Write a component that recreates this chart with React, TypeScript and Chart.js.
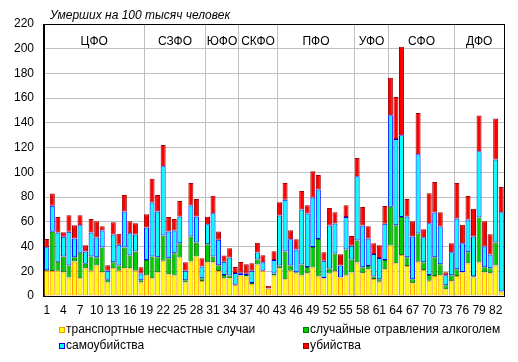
import React, { useEffect, useRef } from 'react';
import { Chart, registerables } from 'chart.js';

Chart.register(...registerables);

const regions = [
  '1','2','3','4','5','6','7','8','9','10','11','12','13','14','15','16','17','18','19','20',
  '21','22','23','24','25','26','27','28','29','30','31','32','33','34','35','36','37','38','39','40',
  '41','42','43','44','45','46','47','48','49','50','51','52','53','54','55','56','57','58','59','60',
  '61','62','63','64','65','66','67','68','69','70','71','72','73','74','75','76','77','78','79','80',
  '81','82','83'
];

const districts = ['ЦФО', 'СЗФО', 'ЮФО', 'СКФО', 'ПФО', 'УФО', 'СФО', 'ДФО'];
const districtSizes = [18, 11, 6, 7, 14, 6, 12, 9];

const transport = [
  20.3, 20.3, 20.5, 19.2, 15, 28, 14.3, 22.4, 20.5, 24.6, 19.2, 11, 22.4, 20.5, 22.4, 22.4, 20.5, 11,
  16.5, 14.3, 19.2, 28.6, 17.6, 16.5, 31.1, 11, 28, 31.9, 12.2,
  27.3, 27.3, 20.3, 14.3, 14.3, 8.9,
  16.5, 15.7, 9.7, 25.4, 20.3, 5.9, 16.5,
  22.4, 13.5, 20.5, 18.4, 16.5, 18.4, 23, 15.7, 14.3, 18.1, 20, 14.9, 16.5, 19,
  27, 18.4, 21.6, 13.8, 11.6, 21.6,
  40.8, 26.5, 33.2, 24.3, 10.3, 27.8, 21, 12.4, 16.2, 16.8, 5.4, 11.9,
  16.2, 19.2, 26.2, 15.1, 27, 19.2, 18.4, 24.6, 3.5
];

const alcohol = [
  0.5, 31.7, 7.3, 12.7, 9.6, 3.4, 20.7, 3.6, 11.4, 6.8, 20, 2.2, 4.9, 4.1, 16.8, 10.3, 15.5, 1.7,
  12.7, 17.6, 12.2, 20.3, 12.9, 18.1, 11.6, 1.7, 20.1, 11.3, 2.1,
  14.6, 4.6, 4.6, 2.7, 2.2, 0.3,
  0.5, 1.3, 0.8, 4.1, 0.2, 0, 1.6,
  2.2, 22.5, 4.1, 0.8, 8.9, 5.1, 16.7, 30.5, 0.2, 4.1, 14.3, 0.1, 21.1, 10.6,
  17.9, 4.8, 2.7, 1.9, 1.9, 7.6,
  31.4, 30.8, 30.6, 7.1, 3.2, 22.7, 6.3, 4.6, 15.2, 8.9, 3.2, 4.9,
  5.4, 0.3, 9.2, 0.8, 36.5, 4, 4, 18.6, 0.2
];

const suicide = [
  18.7, 21, 23.6, 16.1, 27.4, 15.1, 22.3, 10, 19.5, 15.9, 13.8, 7.3, 22.4, 16.8, 29.2, 18.1, 13.7, 5.4,
  26.2, 43.8, 37, 56, 21.7, 18.4, 21.6, 7.8, 25.1, 21.1, 9.5,
  16.2, 35.1, 20.5, 10.8, 14.6, 9.5,
  1.9, 1, 10, 5.6, 6.8, 0.3, 11.1,
  40.5, 41.8, 21.3, 18.4, 44.6, 43.3, 40, 40, 14.1, 34.8, 24.3, 9.6, 26.2, 11,
  51.9, 33.8, 22.2, 18.3, 17.3, 29.2,
  74, 69.7, 66.2, 32.9, 34.6, 64.1, 20.3, 41.9, 36.2, 30.5, 8.2, 18.6,
  41.1, 23.2, 26.5, 32.2, 53.5, 16.8, 11.1, 67.3, 64
];

const murder = [
  6.7, 10, 12.4, 3.6, 13.4, 10.8, 8.1, 5, 10.8, 13.2, 3.5, 4.4, 10, 8.9, 13.2, 9.7, 9.2, 5.1,
  10.8, 19.2, 13.2, 17.3, 11.6, 9.2, 12.5, 6.8, 18.2, 14.1, 6.7,
  5.9, 14.1, 6.8, 4.9, 7.5, 4.8,
  8.7, 7.7, 6, 7.9, 5.7, 2, 7,
  10.8, 13.6, 7.3, 8.3, 14.9, 6.7, 21.3, 11.6, 6.8, 14.1, 9.2, 9.2, 9.7, 8,
  14.8, 14.9, 10, 8.7, 10.2, 14.3,
  30.3, 34, 71.6, 14.1, 12.4, 33.4, 6.4, 24.3, 24.6, 11.6, 2.4, 7.3,
  28.7, 14.9, 18.9, 22.4, 29, 20.5, 16.5, 33, 20.5
];

const seriesNames = [
  'транспортные несчастные случаи',
  'случайные отравления алкоголем',
  'самоубийства',
  'убийства'
];
const fillColors = ['#FFFF00', '#00CC00', '#00FFFF', '#FF0000'];
const edgeColors = ['#FF9900', '#007A00', '#0000FF', '#A00000'];

const yTicks = [0, 20, 40, 60, 80, 100, 120, 140, 160, 180, 200, 220];
const titleText = 'Умерших на 100 тысяч человек';

const FONT = '"Liberation Sans", Arial, sans-serif';

const decorPlugin = {
  id: 'decor',
  beforeDatasetsDraw(chart: any) {
    const { ctx, chartArea } = chart;
    const x = chart.scales.x;
    ctx.save();
    ctx.strokeStyle = '#C0C0C0';
    ctx.lineWidth = 1;
    let start = 0;
    const bounds: number[] = [chartArea.left];
    districtSizes.forEach((n, i) => {
      const end = start + n;
      if (i < districtSizes.length - 1) {
        const px = Math.round((x.getPixelForValue(end - 1) + x.getPixelForValue(end)) / 2) + 0.5;
        ctx.beginPath();
        ctx.moveTo(px, chartArea.top);
        ctx.lineTo(px, chartArea.bottom);
        ctx.stroke();
        bounds.push(px);
      } else {
        bounds.push(chartArea.right);
      }
      start = end;
    });
    ctx.fillStyle = '#000';
    ctx.font = '12px ' + FONT;
    ctx.textAlign = 'center';
    ctx.textBaseline = 'middle';
    districts.forEach((d, i) => {
      ctx.fillText(d, (bounds[i] + bounds[i + 1]) / 2, chartArea.top + 18);
    });
    ctx.restore();
  },
  afterDraw(chart: any) {
    const { ctx, chartArea } = chart;
    ctx.save();
    ctx.strokeStyle = '#000';
    ctx.lineWidth = 1;
    ctx.strokeRect(
      Math.round(chartArea.left) - 0.5,
      Math.round(chartArea.top) + 0.5,
      Math.round(chartArea.right - chartArea.left) + 1,
      Math.round(chartArea.bottom - chartArea.top)
    );
    // title
    ctx.fillStyle = '#000';
    ctx.font = 'italic 12px ' + FONT;
    ctx.textAlign = 'left';
    ctx.textBaseline = 'middle';
    ctx.fillText(titleText, chartArea.left + 6, chartArea.top - 8);
    // legend
    ctx.font = '12px ' + FONT;
    const cols = [59, 303];
    const rows = [330, 346];
    seriesNames.forEach((name, i) => {
      const cx = cols[i % 2];
      const cy = rows[Math.floor(i / 2)];
      ctx.fillStyle = fillColors[i];
      ctx.fillRect(cx, cy - 3, 6, 6);
      ctx.strokeStyle = edgeColors[i];
      ctx.strokeRect(cx + 0.5, cy - 2.5, 5, 5);
      ctx.fillStyle = '#000';
      ctx.fillText(name, cx + 7, cy);
    });
    ctx.restore();
  }
};

export default function App() {
  const ref = useRef<HTMLCanvasElement>(null);
  useEffect(() => {
    if (!ref.current) return;
    const data = [transport, alcohol, suicide, murder];
    const chart = new Chart(ref.current, {
      type: 'bar',
      data: {
        labels: regions,
        datasets: data.map((d, i) => ({
          label: seriesNames[i],
          data: d,
          backgroundColor: fillColors[i],
          borderColor: edgeColors[i],
          borderWidth: 1,
          borderSkipped: false,
          categoryPercentage: 1,
          barPercentage: 0.9
        }))
      },
      options: {
        animation: false,
        responsive: false,
        maintainAspectRatio: false,
        layout: { padding: { top: 24, right: 14, left: 0, bottom: 0 } },
        plugins: { legend: { display: false }, tooltip: { enabled: false }, title: { display: false } },
        scales: {
          x: {
            stacked: true,
            grid: { display: false, drawTicks: false },
            border: { display: true, color: '#000', width: 1 },
            ticks: {
              autoSkip: false,
              maxRotation: 0,
              minRotation: 0,
              padding: 7,
              color: '#000',
              font: { family: FONT, size: 12 },
              callback: (_v: any, idx: number) => (idx % 3 === 0 ? regions[idx] : '')
            },
            afterFit: (s: any) => { s.height = 66; }
          },
          y: {
            stacked: true,
            min: yTicks[0],
            max: yTicks[yTicks.length - 1],
            afterBuildTicks: (s: any) => { s.ticks = yTicks.map(v => ({ value: v })); },
            grid: {
              color: (c: any) => (c.tick && (c.tick.value === 0 || c.tick.value === 220) ? 'rgba(0,0,0,0)' : '#C0C0C0'),
              drawTicks: false
            },
            border: { display: true, color: '#000', width: 1 },
            ticks: {
              padding: 10,
              color: '#000',
              font: { family: FONT, size: 12 }
            },
            afterFit: (s: any) => { s.width = 44; }
          }
        }
      },
      plugins: [decorPlugin]
    });
    return () => chart.destroy();
  }, []);
  return (
    <div style={{ position: 'fixed', left: 0, top: 0, width: 518, height: 362, background: '#fff' }}>
      <canvas ref={ref} width={518} height={362} style={{ width: 518, height: 362, display: 'block' }} />
    </div>
  );
}
